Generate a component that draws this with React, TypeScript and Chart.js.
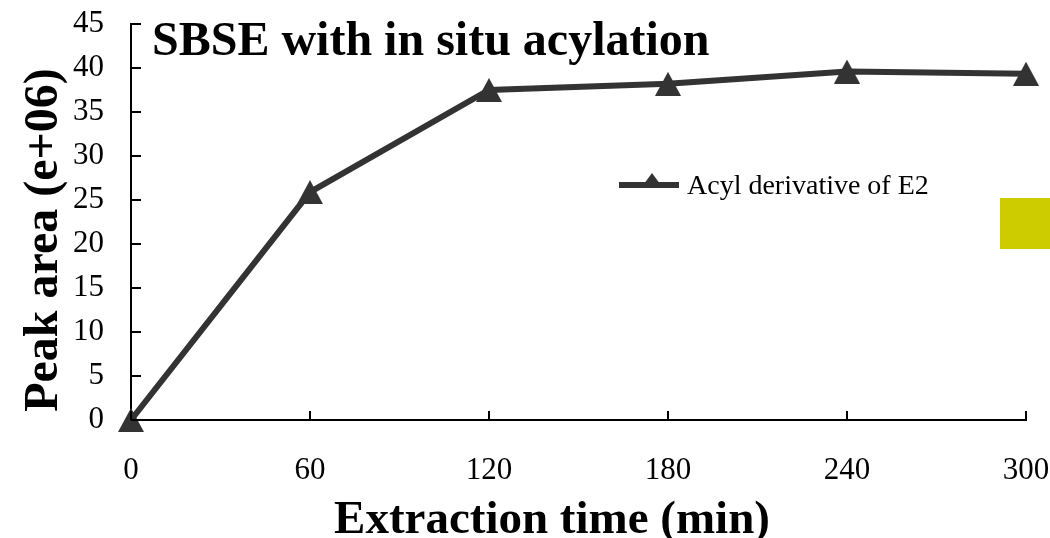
import React, { useEffect, useRef } from "react";
import { Chart, registerables } from "chart.js";

Chart.register(...registerables);

const times = [0, 60, 120, 180, 240, 300];
const peakArea = [0, 25.9, 37.5, 38.2, 39.6, 39.35];
const xTicks = [0, 60, 120, 180, 240, 300];
const yTicks = [0, 5, 10, 15, 20, 25, 30, 35, 40, 45];
const seriesName = "Acyl derivative of E2";
const chartTitle = "SBSE with in situ acylation";
const xTitle = "Extraction time (min)";
const yTitle = "Peak area (e+06)";

const SERIF = "'Liberation Serif', 'Times New Roman', serif";
const LINE = "#333333";

function makeTriangle(w: number, h: number): HTMLCanvasElement {
  const c = document.createElement("canvas");
  c.width = w;
  c.height = h;
  const g = c.getContext("2d")!;
  g.fillStyle = LINE;
  g.beginPath();
  g.moveTo(w / 2, 0);
  g.lineTo(w, h);
  g.lineTo(0, h);
  g.closePath();
  g.fill();
  return c;
}

const decorPlugin = {
  id: "decor",
  afterDraw(chart: any) {
    const { ctx, chartArea, scales } = chart;
    const xs = scales.x;
    const ys = scales.y;
    ctx.save();
    // inward ticks
    ctx.strokeStyle = "#000";
    ctx.lineWidth = 2;
    ctx.beginPath();
    yTicks.forEach((v) => {
      const py = Math.round(ys.getPixelForValue(v));
      ctx.moveTo(chartArea.left, py);
      ctx.lineTo(chartArea.left + 10, py);
    });
    xTicks.forEach((v) => {
      const px = Math.round(xs.getPixelForValue(v));
      ctx.moveTo(px, chartArea.bottom);
      ctx.lineTo(px, chartArea.bottom - 9);
    });
    ctx.stroke();

    // title inside the plot
    ctx.fillStyle = "#000";
    ctx.font = `bold 48px ${SERIF}`;
    ctx.textAlign = "left";
    ctx.textBaseline = "alphabetic";
    ctx.fillText(chartTitle, 152, 55);

    // x title
    ctx.font = `bold 47px ${SERIF}`;
    ctx.textAlign = "center";
    ctx.fillText(xTitle, 552, 533);

    // y title
    ctx.save();
    ctx.font = `bold 48px ${SERIF}`;
    ctx.translate(57, 240);
    ctx.rotate(-Math.PI / 2);
    ctx.fillText(yTitle, 0, 0);
    ctx.restore();

    // legend
    const ly = 185;
    ctx.strokeStyle = LINE;
    ctx.lineWidth = 6;
    ctx.beginPath();
    ctx.moveTo(619, ly);
    ctx.lineTo(679, ly);
    ctx.stroke();
    ctx.fillStyle = LINE;
    ctx.beginPath();
    ctx.moveTo(652, ly - 12);
    ctx.lineTo(663, ly + 3);
    ctx.lineTo(641, ly + 3);
    ctx.closePath();
    ctx.fill();
    ctx.fillStyle = "#000";
    ctx.font = `28px ${SERIF}`;
    ctx.textAlign = "left";
    ctx.textBaseline = "alphabetic";
    ctx.fillText(seriesName, 687, 194);

    // yellow square
    ctx.fillStyle = "#CCCC00";
    ctx.fillRect(1000, 198, 50, 51);
    ctx.restore();
  },
};

export default function App() {
  const ref = useRef<HTMLCanvasElement>(null);
  useEffect(() => {
    const tri = makeTriangle(26, 24);
    const chart = new Chart(ref.current!, {
      type: "line",
      data: {
        datasets: [
          {
            label: seriesName,
            data: times.map((t, i) => ({ x: t, y: peakArea[i] })),
            borderColor: LINE,
            backgroundColor: LINE,
            borderWidth: 6,
            pointStyle: tri as any,
            pointRadius: 13,
            pointBorderWidth: 0,
            tension: 0,
            clip: false,
          },
        ],
      },
      options: {
        animation: false,
        responsive: false,
        layout: { padding: { top: 24, right: 24, left: 0, bottom: 0 } },
        plugins: { legend: { display: false }, tooltip: { enabled: false } },
        scales: {
          x: {
            type: "linear",
            min: 0,
            max: 300,
            afterBuildTicks: (s: any) => {
              s.ticks = xTicks.map((v) => ({ value: v }));
            },
            afterFit: (s: any) => {
              s.height = 118;
              s.paddingLeft = 0;
              s.paddingRight = 0;
              s.paddingTop = 0;
              s.paddingBottom = 0;
            },
            grid: { display: false, drawTicks: false },
            border: { display: true, color: "#000", width: 2 },
            ticks: {
              color: "#000",
              font: { family: SERIF, size: 31 },
              padding: 32,
              maxRotation: 0,
              autoSkip: false,
            },
          },
          y: {
            type: "linear",
            min: 0,
            max: 45,
            afterBuildTicks: (s: any) => {
              s.ticks = yTicks.map((v) => ({ value: v }));
            },
            afterFit: (s: any) => {
              s.width = 131;
              s.paddingLeft = 0;
              s.paddingRight = 0;
              s.paddingTop = 0;
              s.paddingBottom = 0;
            },
            grid: { display: false, drawTicks: false },
            border: { display: true, color: "#000", width: 2 },
            ticks: {
              color: "#000",
              font: { family: SERIF, size: 31 },
              padding: 27,
              autoSkip: false,
            },
          },
        },
      },
      plugins: [decorPlugin],
    });
    return () => chart.destroy();
  }, []);
  return (
    <div style={{ position: "fixed", left: 0, top: 0, width: 1050, height: 538, background: "#fff" }}>
      <canvas ref={ref} width={1050} height={538} style={{ display: "block" }} />
    </div>
  );
}
